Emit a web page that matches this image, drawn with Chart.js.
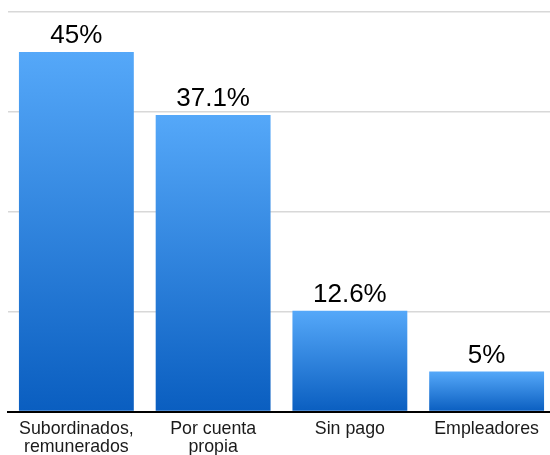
<!DOCTYPE html>
<html>
<head>
<meta charset="utf-8">
<script src="https://cdn.jsdelivr.net/npm/chart.js@4.4.0/dist/chart.umd.min.js"></script>
<style>
  html, body { margin: 0; padding: 0; background: #fff; overflow: hidden; width: 550px; height: 455px; }
  canvas { display: block; }
</style>
</head>
<body>
<canvas id="c" width="556" height="455"></canvas>
<script>
const categories = [['Subordinados,', 'remunerados'], ['Por cuenta', 'propia'], 'Sin pago', 'Empleadores'];
const values = [45, 37.1, 12.6, 5];
const valueLabels = ['45%', '37.1%', '12.6%', '5%'];
const yTicks = [0, 12.5, 25, 37.5, 50];

const FONT = '"Liberation Sans", Arial, sans-serif';

function barGradient(context) {
  const chart = context.chart;
  const ys = chart.scales.y;
  if (!chart.chartArea || !ys || context.raw === undefined) return '#2F86E0';
  const top = ys.getPixelForValue(context.raw);
  const bottom = ys.getPixelForValue(0);
  if (!isFinite(top) || !isFinite(bottom) || top === bottom) return '#2F86E0';
  const g = chart.ctx.createLinearGradient(0, top, 0, bottom);
  g.addColorStop(0, '#55A8F9');
  g.addColorStop(1, '#0A5EC0');
  return g;
}

const valueLabelPlugin = {
  id: 'valueLabels',
  afterDatasetsDraw(chart) {
    const ctx = chart.ctx;
    const meta = chart.getDatasetMeta(0);
    ctx.save();
    ctx.font = '26px ' + FONT;
    ctx.fillStyle = '#000';
    ctx.textAlign = 'center';
    ctx.textBaseline = 'alphabetic';
    meta.data.forEach((el, i) => {
      ctx.fillText(valueLabels[i], el.x, el.y - 9);
    });
    ctx.restore();
  }
};

new Chart(document.getElementById('c'), {
  type: 'bar',
  data: {
    labels: categories,
    datasets: [{
      data: values,
      backgroundColor: barGradient,
      borderWidth: 0,
      barPercentage: 0.84,
      categoryPercentage: 1.0
    }]
  },
  options: {
    responsive: false,
    animation: false,
    events: [],
    layout: { padding: { left: 8, right: 1, top: 12, bottom: 0 } },
    plugins: {
      legend: { display: false },
      tooltip: { enabled: false }
    },
    scales: {
      x: {
        grid: { display: false, drawTicks: false },
        border: { display: true, color: '#000', width: 2 },
        ticks: {
          color: '#1a1a1a',
          font: { family: FONT, size: 17.8, lineHeight: 1.03 },
          padding: 8.5,
          maxRotation: 0,
          autoSkip: false
        },
        afterFit(scale) { scale.height = 43.5; }
      },
      y: {
        min: 0,
        max: 50,
        afterBuildTicks(scale) { scale.ticks = yTicks.map(v => ({ value: v })); },
        grid: { color: '#d8d8d8', lineWidth: 1.5, drawTicks: false },
        border: { display: false },
        ticks: { display: false },
        afterFit(scale) { scale.width = 0; }
      }
    }
  },
  plugins: [valueLabelPlugin]
});
</script>
</body>
</html>
